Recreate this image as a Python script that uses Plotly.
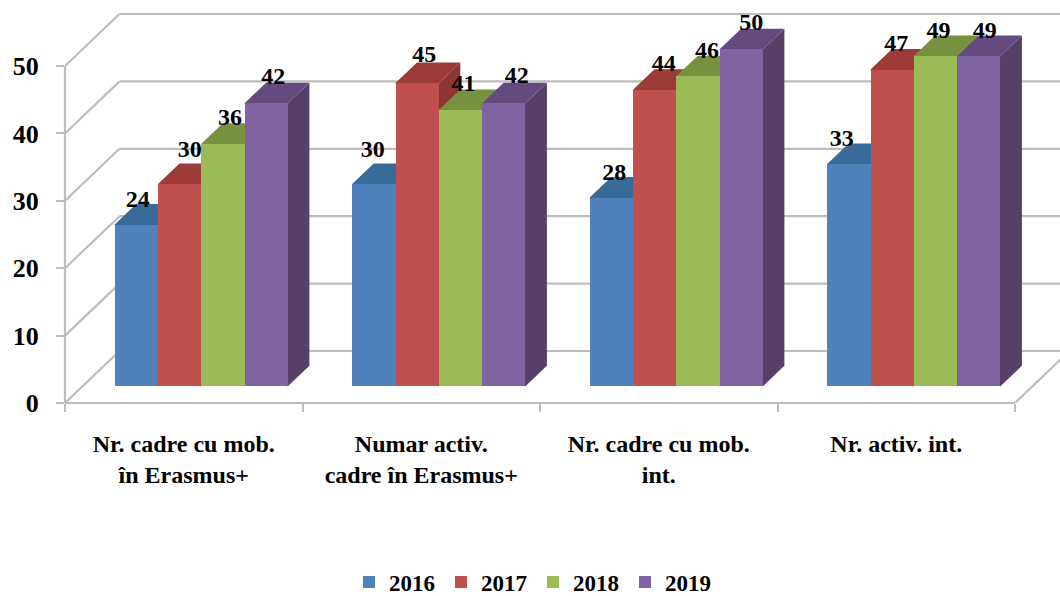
import plotly.graph_objects as go

# ---- data ----
categories = ["Nr. cadre cu mob.<br>în Erasmus+", "Numar activ.<br>cadre în Erasmus+",
              "Nr. cadre cu mob.<br>int.", "Nr. activ. int."]
years = ["2016", "2017", "2018", "2019"]
v2016 = [24, 30, 28, 33]
v2017 = [30, 45, 44, 47]
v2018 = [36, 41, 46, 49]
v2019 = [42, 42, 50, 49]
y_ticks = [0, 10, 20, 30, 40, 50]

# ---- styles / geometry ----
series = [v2016, v2017, v2018, v2019]
front = ["#4F81BD", "#C0504D", "#9BBB59", "#8064A2"]
top = ["#386A9A", "#9C3B38", "#77913F", "#644B7F"]
side = ["#2F5C88", "#8C3532", "#6A8237", "#574068"]
GRID = "#BDBDBD"
FONT = "Liberation Serif"

PX_U = 237.5        # px per category
PX_V = 6.74         # px per value unit
L, T, B = 65, 0, 193
W, H = 1060, 596
x_max = (W - L) / PX_U
y_max = (H - B - T) / PX_V

dxu = lambda px: px / PX_U
dyv = lambda px: px / PX_V

BAR_START = dxu(49.7)
BAR_W = dxu(43.3)
FLOOR = dyv(16.7)          # bars stand in the middle of the floor
DEPTH_X, DEPTH_Y = dxu(21.5), dyv(20.5)
WALL_X, WALL_Y = dxu(54.5), dyv(52)
SEAM_X, SEAM_Y = dxu(1), dyv(1)   # faces tuck under the bar fronts

# nudges of the value labels (px) from bar-top centre
nudge_x = [[1.5, 10, 7, 7], [-1, 7, 3, 13], [3, 9, 9, 10], [-7, 4, 3, 6]]
nudge_y = [[24, 33, 25, 25], [33, 27, 25, 26], [24, 25, 24, 25], [24, 25, 24, 24]]


def poly(pts):
    return "M " + " L ".join(f"{a:.5f},{b:.5f}" for a, b in pts) + " Z"


shapes = []


def line(x0, y0, x1, y1):
    shapes.append(dict(type="line", x0=x0, y0=y0, x1=x1, y1=y1, xref="x", yref="y",
                       layer="below", line=dict(color=GRID, width=2.2)))


# walls: back gridlines and left wall diagonals
for t in y_ticks:
    line(WALL_X, t + WALL_Y, x_max, t + WALL_Y)
    line(0, t, WALL_X, t + WALL_Y)
# right edge of the floor
line(len(categories), 0, len(categories) + WALL_X, WALL_Y)

# axis lines
shapes.append(dict(type="line", xref="paper", yref="y", x0=0, x1=0, y0=0, y1=y_ticks[-1],
                   layer="below", line=dict(color=GRID, width=2.2)))
shapes.append(dict(type="line", xref="x", yref="paper", x0=0, x1=len(categories), y0=0, y1=0,
                   layer="below", line=dict(color=GRID, width=2.2)))

# 3-D faces drawn left to right, under the bar fronts
for g in range(len(categories)):
    for s, vals in enumerate(series):
        x0 = g + BAR_START + s * BAR_W
        x1 = x0 + BAR_W
        yb = FLOOR
        yt = FLOOR + vals[g]
        shapes.append(dict(type="path", xref="x", yref="y", layer="below", line_width=0,
                           fillcolor=side[s],
                           path=poly([(x1 - SEAM_X, yb), (x1, yb), (x1 + DEPTH_X, yb + DEPTH_Y),
                                      (x1 + DEPTH_X, yt + DEPTH_Y), (x1, yt), (x1 - SEAM_X, yt)])))
        shapes.append(dict(type="path", xref="x", yref="y", layer="below", line_width=0,
                           fillcolor=top[s],
                           path=poly([(x0, yt - SEAM_Y), (x0, yt), (x0 + DEPTH_X, yt + DEPTH_Y),
                                      (x1 + DEPTH_X, yt + DEPTH_Y), (x1, yt), (x1, yt - SEAM_Y)])))

fig = go.Figure()
for s, vals in enumerate(series):
    xs = [g + BAR_START + (s + 0.5) * BAR_W for g in range(len(categories))]
    fig.add_trace(go.Bar(x=xs, y=vals, base=FLOOR, width=BAR_W, name=years[s],
                         marker=dict(color=front[s], line=dict(width=0))))

# value labels
lx, ly, lt = [], [], []
for g in range(len(categories)):
    for s, vals in enumerate(series):
        lx.append(g + BAR_START + (s + 0.5) * BAR_W + dxu(nudge_x[g][s]))
        ly.append(FLOOR + vals[g] + dyv(nudge_y[g][s]))
        lt.append(str(vals[g]))
fig.add_trace(go.Scatter(x=lx, y=ly, text=lt, mode="text", showlegend=False, cliponaxis=False,
                         textposition="middle center",
                         textfont=dict(family=FONT, size=24, color="black", weight="bold")))

fig.update_layout(
    width=W, height=H, autosize=False,
    margin=dict(l=L, r=0, t=T, b=B, pad=0),
    paper_bgcolor="white", plot_bgcolor="white",
    barmode="overlay", bargap=0,
    shapes=shapes,
    showlegend=True,
    legend=dict(orientation="h", xref="container", yref="container", x=533 / W, xanchor="center",
                y=1 - 582 / H, yanchor="middle", traceorder="normal",
                font=dict(family=FONT, size=23, color="black", weight="bold"),
                itemwidth=30, entrywidth=47, entrywidthmode="pixels", tracegroupgap=0),
    xaxis=dict(range=[0, x_max], tickmode="array", tickvals=[g + 0.5 for g in range(len(categories))],
               ticktext=categories, ticks="", showgrid=False, zeroline=False, showline=False,
               tickangle=0, ticklabelstandoff=24,
               tickfont=dict(family=FONT, size=24, color="black", weight="bold"),
               minor=dict(tickmode="array", tickvals=list(range(len(categories) + 1)), ticks="outside",
                          ticklen=8, tickwidth=2, tickcolor=GRID, showgrid=False)),
    yaxis=dict(range=[0, y_max], tickmode="array", tickvals=y_ticks, ticks="outside",
               ticklen=8, tickwidth=2, tickcolor=GRID, showgrid=False, zeroline=False, showline=False,
               ticklabelstandoff=12,
               tickfont=dict(family=FONT, size=26, color="black", weight="bold")),
)

# the page's default 8 px body margin would shift the figure
fig.write_html("out.html", config={"displayModeBar": False},
               post_script="document.body.style.margin='0';document.documentElement.style.overflow='hidden';")
